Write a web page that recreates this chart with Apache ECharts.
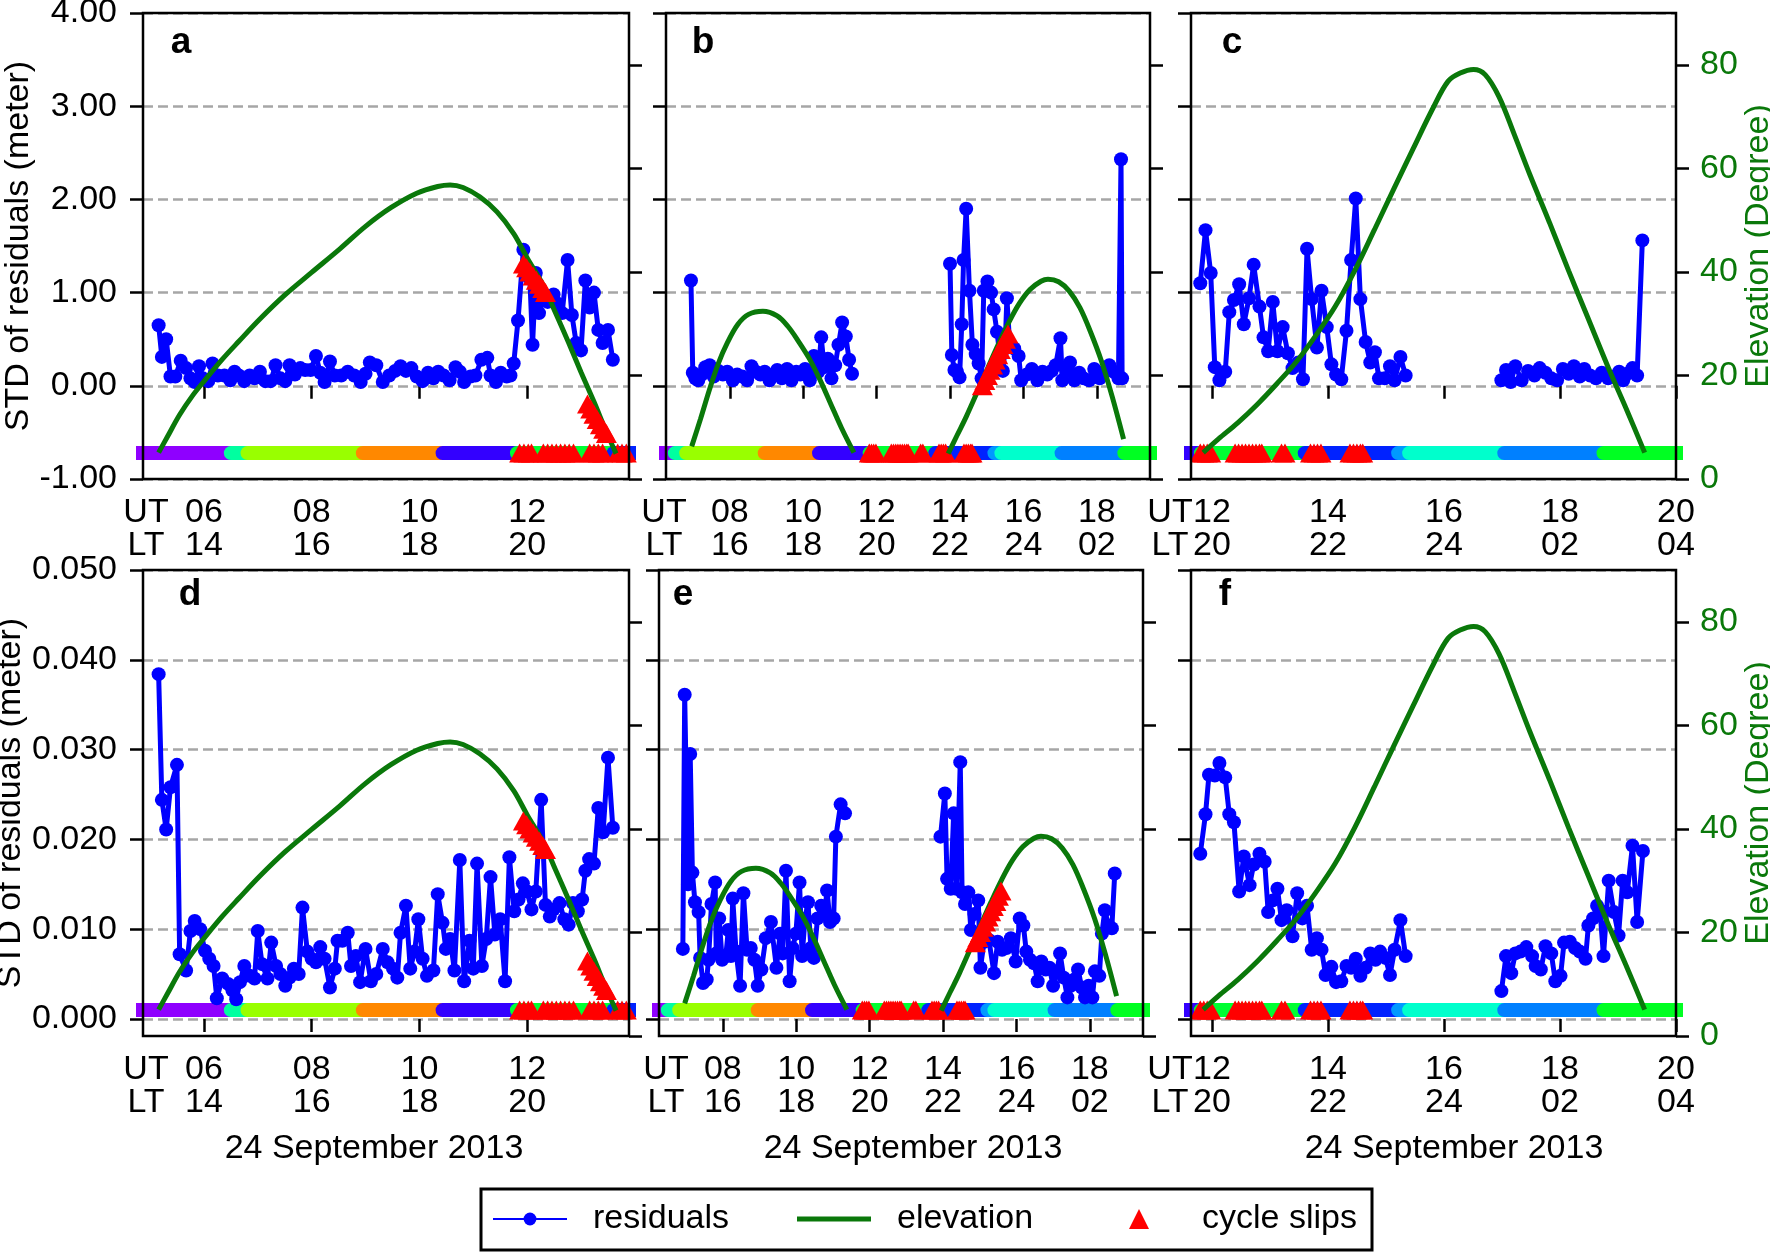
<!DOCTYPE html>
<html><head><meta charset="utf-8">
<script src="https://cdn.jsdelivr.net/npm/echarts@6/dist/echarts.min.js"></script>
<style>html,body{margin:0;padding:0;background:#fff}#c{width:1770px;height:1252px}</style>
</head><body><div id="c"></div>
<script>
// ---------------- DATA ----------------
// x ticks (UT hour) and their local-time labels
const utTicksA = [6, 8, 10, 12];           const ltTicksA = [14, 16, 18, 20];
const utTicksB = [8, 10, 12, 14, 16, 18];  const ltTicksB = [16, 18, 20, 22, 24, 2];
const utTicksC = [12, 14, 16, 18, 20];     const ltTicksC = [20, 22, 24, 2, 4];
const yTicksTop = [-1, 0, 1, 2, 3, 4];
const yTicksBottom = [0, 0.01, 0.02, 0.03, 0.04, 0.05];
const elevTicks = [0, 20, 40, 60, 80];

// residuals (UT hour, STD m)
const resA = [[5.16,0.65],[5.22,0.31],[5.30,0.50],[5.38,0.10],[5.47,0.10],[5.57,0.27],[5.67,0.19],[5.75,0.08],[5.83,0.04],[5.91,0.21],[5.98,0.08],[6.08,0.05],[6.16,0.24],[6.26,0.11],[6.38,0.11],[6.49,0.06],[6.57,0.15],[6.65,0.11],[6.75,0.05],[6.85,0.11],[6.94,0.08],[7.04,0.15],[7.14,0.05],[7.24,0.05],[7.33,0.22],[7.42,0.08],[7.51,0.05],[7.59,0.22],[7.69,0.12],[7.79,0.19],[7.88,0.17],[7.98,0.17],[8.08,0.32],[8.16,0.14],[8.24,0.04],[8.34,0.26],[8.43,0.11],[8.55,0.11],[8.67,0.15],[8.79,0.11],[8.91,0.04],[9.00,0.13],[9.08,0.25],[9.20,0.22],[9.32,0.04],[9.44,0.11],[9.55,0.16],[9.65,0.21],[9.75,0.16],[9.85,0.19],[9.95,0.10],[10.06,0.05],[10.16,0.14],[10.26,0.08],[10.35,0.15],[10.45,0.11],[10.56,0.06],[10.67,0.20],[10.75,0.15],[10.83,0.04],[10.95,0.10],[11.04,0.11],[11.15,0.28],[11.26,0.30],[11.32,0.11],[11.42,0.04],[11.51,0.14],[11.62,0.10],[11.69,0.11],[11.75,0.24],[11.83,0.70],[11.93,1.46],[11.98,1.19],[12.05,1.15],[12.10,0.44],[12.16,1.21],[12.22,0.78],[12.30,0.92],[12.38,0.90],[12.49,0.98],[12.57,0.88],[12.65,0.78],[12.75,1.35],[12.83,0.76],[12.91,0.46],[13.00,0.38],[13.08,1.13],[13.16,0.84],[13.24,1.00],[13.32,0.60],[13.40,0.46],[13.50,0.60],[13.59,0.28]];
const resB1 = [[6.94,1.13],[6.99,0.14],[7.06,0.08],[7.14,0.06],[7.23,0.12],[7.33,0.20],[7.45,0.22],[7.56,0.10],[7.69,0.16],[7.81,0.12],[7.93,0.15],[8.08,0.06],[8.20,0.12],[8.34,0.10],[8.47,0.06],[8.59,0.21],[8.71,0.15],[8.83,0.12],[8.95,0.15],[9.08,0.06],[9.19,0.12],[9.29,0.17],[9.42,0.08],[9.56,0.18],[9.68,0.06],[9.81,0.15],[9.92,0.12],[10.05,0.18],[10.18,0.06],[10.29,0.32],[10.41,0.15],[10.49,0.52],[10.57,0.20],[10.67,0.29],[10.77,0.08],[10.87,0.22],[10.96,0.44],[11.06,0.68],[11.16,0.53],[11.25,0.28],[11.33,0.13]];
const resB2 = [[14.00,1.31],[14.05,0.33],[14.12,0.17],[14.19,0.15],[14.26,0.09],[14.32,0.66],[14.37,1.35],[14.44,1.90],[14.53,1.02],[14.61,0.44],[14.70,0.34],[14.78,0.24],[14.86,0.08],[14.92,1.02],[15.02,1.12],[15.12,1.00],[15.19,0.82],[15.28,0.58],[15.36,0.32],[15.44,0.16],[15.50,0.40],[15.55,0.94],[15.63,0.42],[15.75,0.40],[15.87,0.32],[15.94,0.06],[16.09,0.12],[16.23,0.18],[16.38,0.06],[16.52,0.15],[16.65,0.12],[16.77,0.16],[16.88,0.22],[17.01,0.51],[17.06,0.06],[17.17,0.16],[17.27,0.25],[17.39,0.06],[17.52,0.14],[17.64,0.08],[17.79,0.06],[17.93,0.18],[18.08,0.08],[18.20,0.15],[18.34,0.22],[18.46,0.15],[18.59,0.08],[18.66,2.43],[18.69,0.08]];
const resC1 = [[11.80,1.10],[11.89,1.67],[11.98,1.21],[12.05,0.20],[12.13,0.06],[12.23,0.15],[12.30,0.79],[12.38,0.92],[12.47,1.09],[12.55,0.66],[12.64,0.94],[12.72,1.30],[12.82,0.85],[12.89,0.52],[12.97,0.37],[13.05,0.90],[13.13,0.37],[13.22,0.63],[13.31,0.35],[13.39,0.19],[13.49,0.25],[13.57,0.07],[13.64,1.47],[13.72,0.93],[13.81,0.41],[13.89,1.02],[13.98,0.63],[14.06,0.23],[14.14,0.12],[14.23,0.07],[14.32,0.59],[14.40,1.35],[14.48,2.01],[14.56,0.93],[14.65,0.47],[14.73,0.25],[14.81,0.36],[14.88,0.08],[14.98,0.08],[15.07,0.21],[15.15,0.06],[15.25,0.31],[15.34,0.11]];
const resC2 = [[16.99,0.06],[17.07,0.17],[17.15,0.04],[17.23,0.21],[17.34,0.06],[17.45,0.16],[17.56,0.11],[17.65,0.19],[17.75,0.14],[17.85,0.08],[17.95,0.06],[18.05,0.18],[18.15,0.13],[18.24,0.21],[18.34,0.10],[18.42,0.18],[18.52,0.11],[18.62,0.08],[18.72,0.14],[18.83,0.08],[18.93,0.10],[19.02,0.15],[19.09,0.06],[19.16,0.13],[19.25,0.19],[19.33,0.11],[19.42,1.56]];
const resD = [[5.16,0.0384],[5.22,0.0244],[5.30,0.0211],[5.38,0.0258],[5.50,0.0283],[5.55,0.0072],[5.67,0.0054],[5.75,0.0098],[5.83,0.0109],[5.93,0.0100],[6.02,0.0076],[6.10,0.0067],[6.18,0.0059],[6.24,0.0023],[6.34,0.0045],[6.45,0.0039],[6.53,0.0032],[6.60,0.0022],[6.67,0.0041],[6.75,0.0059],[6.85,0.0048],[6.94,0.0045],[7.00,0.0098],[7.08,0.0061],[7.18,0.0045],[7.25,0.0085],[7.34,0.0059],[7.42,0.0050],[7.51,0.0037],[7.59,0.0046],[7.67,0.0056],[7.76,0.0050],[7.83,0.0124],[7.92,0.0075],[8.00,0.0067],[8.08,0.0063],[8.16,0.0080],[8.24,0.0067],[8.34,0.0035],[8.43,0.0056],[8.48,0.0087],[8.57,0.0087],[8.67,0.0096],[8.73,0.0059],[8.82,0.0070],[8.90,0.0041],[9.00,0.0078],[9.10,0.0042],[9.20,0.0050],[9.32,0.0078],[9.41,0.0063],[9.51,0.0056],[9.59,0.0046],[9.65,0.0096],[9.75,0.0126],[9.83,0.0056],[9.91,0.0075],[9.98,0.0111],[10.06,0.0067],[10.14,0.0048],[10.26,0.0054],[10.34,0.0139],[10.43,0.0107],[10.49,0.0078],[10.57,0.0089],[10.65,0.0054],[10.75,0.0177],[10.83,0.0042],[10.93,0.0087],[11.00,0.0056],[11.07,0.0173],[11.16,0.0059],[11.24,0.0089],[11.32,0.0158],[11.40,0.0094],[11.50,0.0111],[11.59,0.0042],[11.67,0.0180],[11.76,0.0120],[11.84,0.0133],[11.92,0.0151],[12.00,0.0142],[12.08,0.0122],[12.16,0.0142],[12.26,0.0244],[12.34,0.0127],[12.42,0.0114],[12.49,0.0122],[12.60,0.0129],[12.69,0.0111],[12.77,0.0105],[12.85,0.0129],[12.94,0.0120],[13.02,0.0133],[13.08,0.0165],[13.15,0.0178],[13.24,0.0173],[13.32,0.0235],[13.41,0.0208],[13.50,0.0291],[13.59,0.0213]];
const resE1 = [[6.91,0.0078],[6.96,0.0361],[7.05,0.0150],[7.11,0.0295],[7.17,0.0163],[7.24,0.0130],[7.34,0.0119],[7.38,0.0068],[7.46,0.0040],[7.56,0.0044],[7.61,0.0066],[7.69,0.0128],[7.79,0.0152],[7.82,0.0073],[7.90,0.0112],[7.98,0.0066],[8.08,0.0070],[8.15,0.0099],[8.22,0.0070],[8.27,0.0134],[8.36,0.0075],[8.47,0.0037],[8.56,0.0140],[8.66,0.0077],[8.76,0.0079],[8.86,0.0066],[8.95,0.0037],[9.05,0.0055],[9.17,0.0090],[9.31,0.0108],[9.46,0.0057],[9.56,0.0095],[9.63,0.0073],[9.72,0.0165],[9.82,0.0042],[9.90,0.0079],[9.99,0.0095],[10.09,0.0152],[10.16,0.0070],[10.24,0.0112],[10.32,0.0130],[10.40,0.0079],[10.48,0.0068],[10.58,0.0112],[10.68,0.0126],[10.77,0.0117],[10.84,0.0143],[10.92,0.0108],[11.02,0.0112],[11.08,0.0203],[11.21,0.0239],[11.33,0.0229]];
const resE2 = [[13.93,0.0203],[14.05,0.0251],[14.11,0.0156],[14.21,0.0145],[14.29,0.0229],[14.37,0.0145],[14.47,0.0286],[14.52,0.0141],[14.60,0.0128],[14.69,0.0141],[14.76,0.0099],[14.86,0.0117],[14.96,0.0132],[15.02,0.0057],[15.12,0.0086],[15.25,0.0088],[15.39,0.0051],[15.49,0.0086],[15.61,0.0077],[15.73,0.0079],[15.85,0.0090],[15.98,0.0064],[16.09,0.0112],[16.19,0.0104],[16.27,0.0075],[16.37,0.0066],[16.48,0.0062],[16.58,0.0042],[16.68,0.0064],[16.80,0.0055],[16.90,0.0057],[17.00,0.0037],[17.10,0.0053],[17.19,0.0073],[17.29,0.0046],[17.39,0.0024],[17.48,0.0037],[17.58,0.0044],[17.68,0.0055],[17.78,0.0035],[17.87,0.0024],[17.97,0.0037],[18.07,0.0024],[18.14,0.0053],[18.26,0.0048],[18.33,0.0095],[18.41,0.0121],[18.51,0.0104],[18.60,0.0101],[18.68,0.0162]];
const resF1 = [[11.80,0.0184],[11.89,0.0228],[11.95,0.0272],[12.05,0.0271],[12.13,0.0285],[12.23,0.0269],[12.30,0.0228],[12.38,0.0219],[12.47,0.0142],[12.55,0.0181],[12.65,0.0149],[12.72,0.0172],[12.82,0.0184],[12.91,0.0175],[12.97,0.0119],[13.05,0.0132],[13.13,0.0145],[13.20,0.0110],[13.29,0.0121],[13.39,0.0092],[13.47,0.0140],[13.56,0.0112],[13.64,0.0126],[13.72,0.0077],[13.81,0.0090],[13.89,0.0077],[13.96,0.0049],[14.06,0.0058],[14.14,0.0041],[14.23,0.0042],[14.32,0.0059],[14.40,0.0057],[14.48,0.0067],[14.56,0.0048],[14.65,0.0057],[14.73,0.0073],[14.82,0.0066],[14.90,0.0075],[14.99,0.0068],[15.07,0.0049],[15.15,0.0077],[15.25,0.0110],[15.34,0.0070]];
const resF2 = [[16.99,0.0031],[17.07,0.0070],[17.16,0.0051],[17.23,0.0073],[17.32,0.0075],[17.42,0.0080],[17.52,0.0070],[17.58,0.0059],[17.67,0.0055],[17.75,0.0081],[17.85,0.0073],[17.92,0.0042],[18.01,0.0048],[18.07,0.0085],[18.17,0.0086],[18.26,0.0079],[18.34,0.0075],[18.44,0.0067],[18.49,0.0104],[18.57,0.0112],[18.64,0.0126],[18.69,0.0121],[18.75,0.0070],[18.84,0.0154],[18.93,0.0119],[19.01,0.0093],[19.08,0.0154],[19.16,0.0141],[19.25,0.0193],[19.33,0.0108],[19.43,0.0187]];

// elevation (UT hour, degree)
const elevA = [[5.16,5.1],[5.32,8.1],[5.55,12.4],[5.79,16.1],[6.02,19.1],[6.34,23.1],[6.65,26.6],[7.04,30.9],[7.51,35.6],[8.00,39.9],[8.53,44.5],[9.00,48.8],[9.47,52.4],[9.95,55.2],[10.34,56.5],[10.57,56.8],[10.81,56.3],[11.12,54.5],[11.44,51.6],[11.75,47.4],[12.00,42.7],[12.30,37.4],[12.53,32.0],[12.77,26.3],[13.00,20.6],[13.24,14.9],[13.47,9.1],[13.65,4.9]];
const elevB1 = [[6.96,6.3],[7.20,11.6],[7.45,17.4],[7.69,22.4],[7.93,26.3],[8.22,29.9],[8.51,31.8],[8.90,32.4],[9.29,31.5],[9.58,29.5],[9.87,26.6],[10.17,23.2],[10.46,19.1],[10.75,14.5],[11.04,9.9],[11.38,5.1]];
const elevB2 = [[13.95,4.9],[14.19,8.4],[14.44,12.0],[14.73,16.6],[15.02,21.3],[15.31,25.9],[15.60,30.2],[15.89,33.9],[16.18,36.6],[16.48,38.2],[16.67,38.6],[16.96,38.1],[17.25,36.3],[17.54,33.1],[17.83,28.4],[18.13,22.7],[18.42,15.9],[18.73,7.7]];
const elevC = [[11.85,5.1],[12.11,7.7],[12.45,10.9],[12.79,14.5],[13.12,18.4],[13.46,22.7],[13.79,27.7],[14.13,33.4],[14.46,40.2],[14.80,48.1],[15.13,55.9],[15.47,63.8],[15.81,71.6],[16.07,76.8],[16.28,78.4],[16.51,79.1],[16.71,78.1],[16.95,73.8],[17.21,66.6],[17.48,58.8],[17.82,49.5],[18.15,40.2],[18.49,30.9],[18.83,21.6],[19.16,13.1],[19.46,5.1]];

// cycle slips on the elevation curve (UT hour, degree)
const slipElevA = [[11.93,41.5],[11.99,40.8],[12.05,40.0],[12.11,39.2],[12.17,38.4],[12.23,37.6],[12.29,36.8],[12.34,36.0],[13.12,14.5],[13.18,13.5],[13.24,12.5],[13.30,11.5],[13.36,10.5],[13.42,9.6],[13.47,8.8]];
const slipElevB = [[14.88,18.0],[14.95,19.0],[15.02,20.0],[15.09,21.0],[15.16,22.0],[15.23,23.0],[15.30,24.0],[15.37,25.0],[15.44,26.0],[15.51,27.0],[15.58,28.0]];
// cycle slips on the arc bar (UT hour)
const bandSlipsAD = [11.86,11.94,12.02,12.08,12.30,12.38,12.46,12.54,12.62,12.70,12.78,12.86,13.16,13.24,13.32,13.40,13.68,13.76,13.84,13.90];
const bandSlipsBC = [11.80,11.86,11.92,11.98,12.40,12.46,12.52,12.58,12.64,12.70,12.76,12.82,12.86,13.20,13.26,13.70,13.76,13.82,13.88,14.38,14.44,14.50,14.56,14.60];
const BAND_ELEV = 5;
// arc bar segments: start UT hour of each coloured stretch
const bandStart = [4.5, 6.50, 6.81, 8.95, 10.43, 11.81, 13.60, 15.21, 15.40, 17.04, 18.75];
const BAND_END = 20.5;
const bandColor = ['#8f00ff','#00ffa0','#99ff00','#ff8800','#3300ff','#00ff33','#0022ff','#0099ff','#00ffcc','#0080ff','#00ff22'];

// ---------------- LAYOUT / STYLE ----------------
const FONT = 'Liberation Sans, Arial, Helvetica, sans-serif';
const FS = 34;
const GREEN = '#0a780a';
const BLUE = '#0000ff';
const GRID_POS = [
  {l:143,r:629,t:13,b:479},{l:666,r:1150,t:13,b:479},{l:1191,r:1676,t:13,b:479},
  {l:143,r:629,t:570,b:1036},{l:659,r:1143,t:570,b:1036},{l:1191,r:1676,t:570,b:1036}];

const panels = [
  {row:0,col:0,xr:[4.87,13.89],ut:utTicksA,lt:ltTicksA,res:[resA],elev:[elevA],slips:slipElevA,band:bandSlipsAD,letter:'a'},
  {row:0,col:1,xr:[6.26,19.45],ut:utTicksB,lt:ltTicksB,res:[resB1,resB2],elev:[elevB1,elevB2],slips:slipElevB,band:bandSlipsBC,letter:'b'},
  {row:0,col:2,xr:[11.64,20],ut:utTicksC,lt:ltTicksC,res:[resC1,resC2],elev:[elevC],slips:[],band:bandSlipsBC,letter:'c'},
  {row:1,col:0,xr:[4.87,13.89],ut:utTicksA,lt:ltTicksA,res:[resD],elev:[elevA],slips:slipElevA,band:bandSlipsAD,letter:'d'},
  {row:1,col:1,xr:[6.26,19.45],ut:utTicksB,lt:ltTicksB,res:[resE1,resE2],elev:[elevB1,elevB2],slips:slipElevB,band:bandSlipsBC,letter:'e'},
  {row:1,col:2,xr:[11.64,20],ut:utTicksC,lt:ltTicksC,res:[resF1,resF2],elev:[elevC],slips:[],band:bandSlipsBC,letter:'f'}];

const letterPos = [[181,43],[703,43],[1232,43],[190,595],[683,595],[1225,595]];
const utlbPos = [146,664,1170,146,666,1170];
const datePos = [374,913,1454];

function pad2(n){ return (n < 10 ? '0' : '') + n; }
const tickStyle = {show:true, inside:false, length:13, lineStyle:{color:'#000', width:2.5}};
const txt = {fontSize:FS, fontFamily:FONT, color:'#000'};

const grids = GRID_POS.map(g => ({left:g.l, top:g.t, width:g.r-g.l, height:g.b-g.t, show:true,
  borderColor:'#000', borderWidth:2.5, backgroundColor:'transparent', containLabel:false,
  outerBoundsMode:'none', z:10}));

const xAxes = [], yAxes = [], series = [];
panels.forEach((p, i) => {
  const ut = p.ut, lt = p.lt;
  xAxes.push({type:'value', gridIndex:i, position:'bottom', min:p.xr[0], max:p.xr[1],
    axisLine:{show:false}, axisTick:Object.assign({customValues:ut}, tickStyle),
    axisLabel:Object.assign({customValues:ut, margin:17, lineHeight:33, showMinLabel:true, showMaxLabel:true,
      formatter:v => pad2(v) + '\n' + pad2(lt[ut.indexOf(v)])}, txt),
    splitLine:{show:false}});
  const yt = p.row ? yTicksBottom : yTicksTop;
  yAxes.push({type:'value', gridIndex:i, position:'left',
    min:p.row ? -0.0019 : -1, max:p.row ? 0.05 : 4,
    axisLine:{show:false}, axisTick:Object.assign({customValues:yt}, tickStyle),
    axisLabel:Object.assign({show:p.col === 0, customValues:yt, margin:26, showMinLabel:true, showMaxLabel:true,
      formatter:v => v.toFixed(p.row ? 3 : 2)}, txt),
    splitLine:{show:true, lineStyle:{color:'#a6a6a6', width:2.6, type:[10,5]}},
    name:p.col === 0 ? 'STD of residuals (meter)' : '', nameLocation:'middle', nameRotate:90,
    nameGap:p.row ? 102 : 94, nameTextStyle:txt});
  yAxes.push({type:'value', gridIndex:i, position:'right', min:0, max:90,
    axisLine:{show:false}, axisTick:Object.assign({customValues:elevTicks}, tickStyle),
    axisLabel:Object.assign({}, txt, {show:p.col === 2, customValues:elevTicks, margin:24, color:GREEN, showMinLabel:true, showMaxLabel:true}),
    splitLine:{show:false},
    name:p.col === 2 ? 'Elevation (Degree)' : '', nameLocation:'middle', nameRotate:90, nameGap:60,
    nameTextStyle:Object.assign({}, txt, {color:GREEN})});

  const L = 2*i, R = 2*i + 1;
  bandStart.forEach((s, k) => {
    const e = k + 1 < bandStart.length ? bandStart[k+1] : BAND_END;
    series.push({type:'line', name:'arc', xAxisIndex:i, yAxisIndex:R, data:[[s,BAND_ELEV],[e,BAND_ELEV]],
      symbol:'none', silent:true, z:1, clip:true,
      lineStyle:{width:14, color:bandColor[k], cap:'round'}});
  });
  series.push({type:'scatter', name:'cycle slips', xAxisIndex:i, yAxisIndex:R,
    data:p.band.map(t => [t, BAND_ELEV]), symbol:'triangle', symbolSize:[21,19],
    itemStyle:{color:'#ff0000', opacity:1}, z:2, silent:true, clip:true});
  p.res.forEach(seg => series.push({type:'line', name:'residuals', xAxisIndex:i, yAxisIndex:L, data:seg,
    symbol:'circle', symbolSize:14, showSymbol:true, showAllSymbol:true,
    lineStyle:{width:5, color:BLUE}, itemStyle:{color:BLUE}, z:3, silent:true}));
  p.elev.forEach(seg => series.push({type:'line', name:'elevation', xAxisIndex:i, yAxisIndex:R, data:seg,
    symbol:'none', smooth:0.35, lineStyle:{width:5, color:GREEN}, itemStyle:{color:GREEN}, z:4, silent:true}));
  if (p.slips.length) series.push({type:'scatter', name:'cycle slips', xAxisIndex:i, yAxisIndex:R,
    data:p.slips, symbol:'triangle', symbolSize:[21,19], itemStyle:{color:'#ff0000', opacity:1}, z:5, silent:true});
});

const graphics = [];
graphics.push({type:'rect', shape:{x:481, y:1189, width:891, height:61}, style:{fill:'none', stroke:'#000', lineWidth:3}, z:20});
panels.forEach((p, i) => {
  graphics.push({type:'text', x:letterPos[i][0], y:letterPos[i][1], z:20,
    style:{text:p.letter, fontSize:37, fontWeight:'bold', fontFamily:FONT, fill:'#000', align:'center', verticalAlign:'middle'}});
  const g = GRID_POS[i];
  graphics.push({type:'text', x:utlbPos[i], y:g.b + 17 + 33, z:20,
    style:{text:'UT\nLT', fontSize:FS, lineHeight:33, fontFamily:FONT, fill:'#000', align:'center', verticalAlign:'middle'}});
});
datePos.forEach(x => graphics.push({type:'text', x:x, y:1149, z:20,
  style:{text:'24 September 2013', fontSize:FS, fontFamily:FONT, fill:'#000', align:'center', verticalAlign:'middle'}}));

const legendBase = {orient:'horizontal', selectedMode:false, itemGap:0, padding:0,
  textStyle:{fontSize:FS, fontFamily:FONT, color:'#000', lineHeight:34, rich:{g:{width:21}, h:{width:48}}}};
const legends = [
  Object.assign({}, legendBase, {data:['residuals'], left:492, top:1202, itemWidth:74, itemHeight:16, formatter:n => '{g| }' + n}),
  Object.assign({}, legendBase, {data:[{name:'elevation', icon:'rect'}], left:797, top:1202, itemWidth:74, itemHeight:5, formatter:n => '{g| }' + n}),
  Object.assign({}, legendBase, {data:['cycle slips'], left:1129, top:1202, itemWidth:20, itemHeight:20, formatter:n => '{h| }' + n})
];

const chart = echarts.init(document.getElementById('c'), null, {renderer:'canvas', width:1770, height:1252});
chart.setOption({
  animation:false, backgroundColor:'#ffffff',
  grid:grids, xAxis:xAxes, yAxis:yAxes, series:series, legend:legends, graphic:graphics
});
</script>
</body></html>
